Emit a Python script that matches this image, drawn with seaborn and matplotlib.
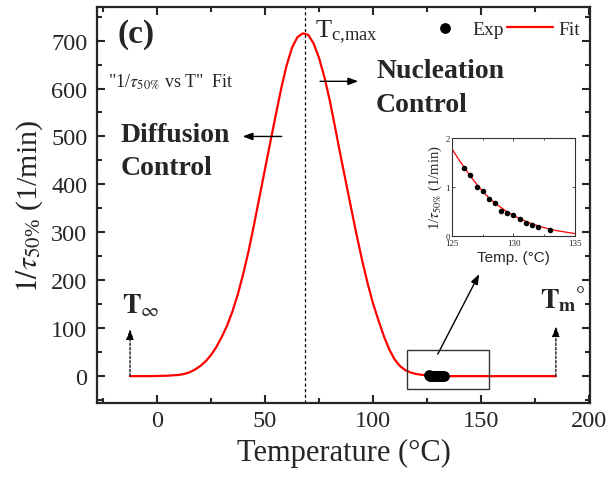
import matplotlib
matplotlib.use("Agg")
import matplotlib.pyplot as plt
import seaborn as sns
import pandas as pd
from matplotlib.patches import Rectangle
from matplotlib.ticker import MultipleLocator

# Fitted crystallization rate 1/tau_50% (1/min) over the full temperature window
fit_T = [-12.5, -5, 0, 5, 10, 12.5, 15, 17.5, 20, 22.5, 25, 27.5, 30, 32.5, 35,
         37.5, 40, 42.5, 45, 47.5, 50, 52.5, 55, 57.5, 60, 62.5, 65, 67.5, 70,
         72.5, 75, 77.5, 80, 82.5, 85, 87.5, 90, 92.5, 95, 97.5, 100, 102.5,
         105, 107.5, 110, 112.5, 115, 117.5, 120, 122.5, 125, 127.5, 130, 132.5,
         135, 140, 150, 160, 170, 184.7]
fit_rate = [0, 0, 0.3, 1, 2.5, 4.5, 8, 13.5, 21, 31, 44, 61, 82, 106, 136,
            172, 215, 263, 318, 375, 432, 489, 545, 600, 648, 685, 707, 715, 712,
            694, 664, 624, 575, 518, 460, 404, 348, 293, 241, 194, 152, 117,
            84, 56, 35, 21, 12.5, 7.5, 4.5, 2.8, 1.78, 0.9, 0.42, 0.17,
            0.05, 0.01, 0, 0, 0, 0]

# Isothermal experiments
exp_T = [126, 126.5, 127, 127.5, 128, 128.5, 129, 129.5, 130, 130.5, 131, 131.5, 132, 133]
exp_rate = [1.39, 1.24, 1.01, 0.92, 0.76, 0.68, 0.52, 0.47, 0.43, 0.35, 0.27, 0.22, 0.19, 0.12]

# Fit over the experimental range (inset)
inset_fit_T = [125, 125.5, 126, 126.5, 127, 127.5, 128, 128.5, 129, 129.5, 130,
               130.5, 131, 131.5, 132, 132.5, 133, 133.5, 134, 134.5, 135]
inset_fit_rate = [1.78, 1.58, 1.40, 1.22, 1.06, 0.91, 0.78, 0.67, 0.58, 0.49, 0.42,
                  0.355, 0.30, 0.25, 0.21, 0.17, 0.14, 0.11, 0.09, 0.07, 0.05]

x_ticks = [0, 50, 100, 150, 200]
y_ticks = [0, 100, 200, 300, 400, 500, 600, 700]
inset_x_ticks = [125, 130, 135]
inset_y_ticks = [0, 1, 2]

T_inf = -12.5
T_m0 = 184.7
T_cmax = 68.5

sns.set_style("ticks")
plt.rcParams["font.family"] = ["Liberation Serif", "DejaVu Serif"]
plt.rcParams["mathtext.fontset"] = "stix"

fit_df = pd.DataFrame({"T": fit_T, "rate": fit_rate})
exp_df = pd.DataFrame({"T": exp_T, "rate": exp_rate})
inset_df = pd.DataFrame({"T": inset_fit_T, "rate": inset_fit_rate})

fig = plt.figure(figsize=(6.07, 4.85), dpi=100)
ax = fig.add_axes([0.1598, 0.1670, 0.8122, 0.8165])

sns.lineplot(data=fit_df, x="T", y="rate", ax=ax, color="#ff0000", lw=1.6,
             label="Fit", zorder=3)
sns.scatterplot(data=exp_df, x="T", y="rate", ax=ax, color="black", s=60,
                linewidth=0, label="Exp", zorder=4)

ax.set_xlim(-27.8, 200.5)
ax.set_ylim(-56, 770)
ax.set_xticks(x_ticks)
ax.set_yticks(y_ticks)
ax.xaxis.set_minor_locator(MultipleLocator(25))
ax.yaxis.set_minor_locator(MultipleLocator(50))
ax.tick_params(which="both", direction="in", top=True, right=True, width=1.5,
               labelsize=17.5)
ax.tick_params(which="major", length=6)
ax.tick_params(which="minor", length=3.5)
ax.tick_params(axis="x", pad=5)
ax.tick_params(axis="y", pad=7)
for sp in ax.spines.values():
    sp.set_linewidth(1.6)

ax.set_xlabel("Temperature (°C)", fontsize=22, labelpad=5)
ax.set_ylabel(r"$\mathit{1}/\tau_{\mathit{50}\mathregular{\%}}$ (1/min)",
              fontsize=21.5, labelpad=4)

# Temperature of maximum rate
ax.axvline(T_cmax, color="black", lw=0.9, ls=(0, (2.5, 2)), zorder=2)

# Legend: Exp then Fit on one row
handles, labels = ax.get_legend_handles_labels()
order = [labels.index("Exp"), labels.index("Fit")]
ax.legend([handles[i] for i in order], [labels[i] for i in order], ncol=2,
          loc="center right", bbox_to_anchor=(0.980, 0.945), frameon=False,
          fontsize=14, handlelength=2.37, handletextpad=0.26,
          columnspacing=0.15, borderpad=0, borderaxespad=0, scatterpoints=1)

# Annotations
ax.text(-18.5, 697, "(c)", fontsize=24, fontweight="bold")
ax.text(73.1, 708, r"$\mathregular{T_{c{,}max}}$", fontsize=19)
ax.text(-22.7, 605, '"1/' + r"$\tau_{50\%}$" + ' vs T"  Fit', fontsize=13)
ax.text(-17, 490, "Diffusion", fontsize=20, fontweight="bold")
ax.text(-17, 422, "Control", fontsize=20, fontweight="bold")
ax.text(101.4, 624, "Nucleation", fontsize=20, fontweight="bold")
ax.text(101.4, 553, "Control", fontsize=20, fontweight="bold")
ax.text(-16.2, 134, r"$\mathbf{T}_{\infty}$", fontsize=20)
ax.text(177.3, 144, r"$\mathbf{T}_{\mathbf{m}}$", fontsize=20)
ax.text(194.0, 168, "°", fontsize=16, va="center")

solid = dict(arrowstyle="-|>,head_length=0.6,head_width=0.22", color="black",
             lw=1.0, mutation_scale=10, shrinkA=0, shrinkB=0)
dashed = dict(arrowstyle="-|>,head_length=0.6,head_width=0.22", color="black",
              lw=0.9, ls=(0, (2, 1.5)), mutation_scale=10, shrinkA=0, shrinkB=0)
ax.annotate("", xy=(39.6, 500), xytext=(57.7, 500), arrowprops=solid)
ax.annotate("", xy=(93.2, 615), xytext=(75.5, 615), arrowprops=solid)
ax.annotate("", xy=(149.2, 213), xytext=(130, 46), arrowprops=solid)
ax.annotate("", xy=(T_inf, 98), xytext=(T_inf, 0), arrowprops=dashed)
ax.annotate("", xy=(T_m0, 104), xytext=(T_m0, 0), arrowprops=dashed)

ax.add_patch(Rectangle((115.7, -27), 38, 81, fill=False, edgecolor="#333333",
                       lw=1.0, zorder=5))

# Inset: zoom on the experimental window
ins = fig.add_axes([0.7446, 0.5113, 0.2026, 0.2021])
sns.lineplot(data=inset_df, x="T", y="rate", ax=ins, color="#ff0000", lw=0.9)
sns.scatterplot(data=exp_df, x="T", y="rate", ax=ins, color="black", s=16,
                linewidth=0, zorder=3)
ins.set_xlim(125, 135)
ins.set_ylim(0, 2)
ins.set_xticks(inset_x_ticks)
ins.set_yticks(inset_y_ticks)
ins.xaxis.set_minor_locator(MultipleLocator(2.5))
ins.tick_params(which="both", direction="in", top=True, right=True, width=0.6,
                labelsize=6.5, colors="#333333", labelcolor="#222222")
ins.tick_params(axis="x", pad=2.5)
ins.tick_params(axis="y", pad=1.5)
ins.tick_params(which="major", length=2.5)
ins.tick_params(which="minor", length=1.5)
for sp in ins.spines.values():
    sp.set_linewidth(0.8)
    sp.set_color("#333333")
ins.set_xlabel("Temp. (°C)", fontsize=11, family="Liberation Sans", labelpad=1.5)
ins.set_ylabel(r"1/$\tau_{50\%}$ (1/min)", fontsize=10.5, labelpad=1)

fig.savefig("out.png", dpi=100)
